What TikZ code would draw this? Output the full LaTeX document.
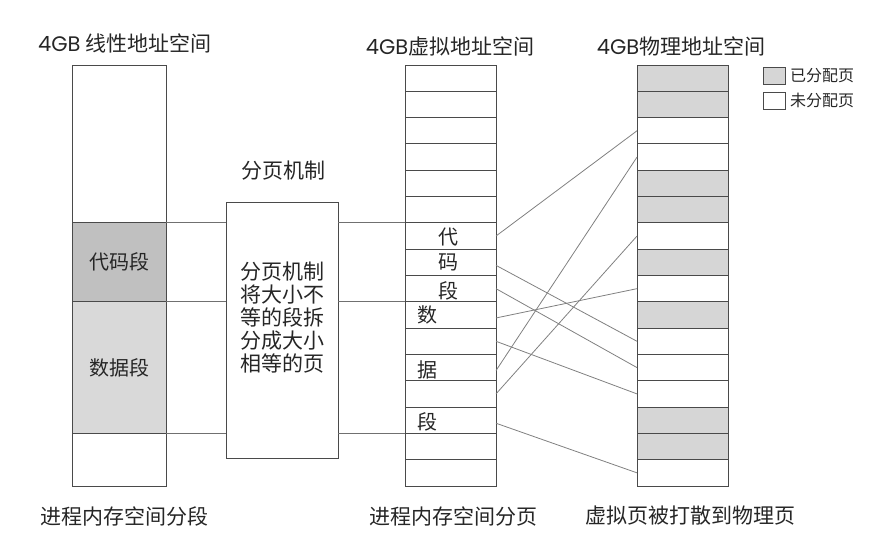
\documentclass[tikz,border=0pt]{standalone}
\usepackage{fontspec}
\setmainfont{Noto Sans CJK SC}
\newfontfamily\latinf{Poppins}
\usetikzlibrary{calc}
\definecolor{boxline}{HTML}{4A4A4A}
\definecolor{hl}{HTML}{707070}
\definecolor{conn}{HTML}{808080}
\definecolor{codefill}{HTML}{C0C0C0}
\definecolor{datafill}{HTML}{D9D9D9}
\definecolor{allocfill}{HTML}{D6D6D6}
\definecolor{txt}{HTML}{262626}
\tikzset{
  cell/.style={draw=boxline, line width=0.9pt, minimum width=91pt, minimum height=26.3125pt, inner sep=0pt, outer sep=0pt, anchor=north west},
  seg/.style={draw=boxline, line width=0.9pt, minimum width=94pt, inner sep=0pt, outer sep=0pt, anchor=north west, text=txt, font=\fontsize{20}{24}\selectfont},
  big/.style={inner sep=0pt, text=txt, font=\fontsize{21}{25}\selectfont},
  vlab/.style={inner sep=0pt, text=txt, font=\fontsize{20}{24}\selectfont},
  legtxt/.style={inner sep=0pt, anchor=west, text=txt, font=\fontsize{16}{19}\selectfont},
  legbox/.style={draw=boxline, line width=0.8pt, minimum width=22pt, minimum height=17pt, inner sep=0pt, outer sep=0pt, anchor=north west},
  hline/.style={draw=hl, line width=0.9pt},
  conn/.style={draw=conn, line width=0.8pt}
}
\begin{document}
\begin{tikzpicture}[x=1pt, y=-1pt]
\useasboundingbox (0,0) rectangle (876,549);
\def\h{26.3125}
% titles
\node[big, anchor=west] (t1) at (38,43) {{\latinf 4GB} 线性地址空间};
\node[big] (t2) at (450,46) {{\latinf 4GB}虚拟地址空间};
\node[big] (t3) at (681,46) {{\latinf 4GB}物理地址空间};
% left column
\node[seg, minimum height={6*\h pt}] (lt) at (72,65) {};
\node[seg, fill=codefill, minimum height={3*\h pt}] (code) at (lt.south west) {代码段};
\node[seg, fill=datafill, minimum height={5*\h pt}] (data) at (code.south west) {数据段};
\node[seg, minimum height={2*\h pt}] (lb) at (data.south west) {};
% virtual column
\foreach \k in {1,...,16} {
  \node[cell] (v\k) at (405, {65+\h*(\k-1)}) {};
}
% physical column
\foreach \k/\f in {1/allocfill,2/allocfill,3/white,4/white,5/allocfill,6/allocfill,7/white,8/allocfill,9/white,10/allocfill,11/white,12/white,13/white,14/allocfill,15/allocfill,16/white} {
  \node[cell, fill=\f] (p\k) at (637, {65+\h*(\k-1)}) {};
}
% middle box
\node[draw=boxline, line width=0.9pt, fill=white, minimum width=112pt, minimum height=256pt, inner sep=0pt, outer sep=0pt, anchor=north west] (mech) at (226,202) {};
\node[big, align=center, font=\fontsize{21}{23}\selectfont] (mechtxt) at (282,318) {分页机制\\将大小不\\等的段拆\\分成大小\\相等的页};
\node[big] (mechlab) at (283,171) {分页机制};
% horizontal lines
\draw[hline] (code.north east) -- (code.north east -| mech.west);
\draw[hline] (code.north east -| mech.east) -- (v7.north west);
\draw[hline] (data.north east) -- (data.north east -| mech.west);
\draw[hline] (data.north east -| mech.east) -- (v10.north west);
\draw[hline] (lb.north east) -- (lb.north east -| mech.west);
\draw[hline] (lb.north east -| mech.east) -- (v15.north west);
% labels in virtual rows
\node[vlab] (l7) at ([xshift=-2.5pt, yshift=-1pt]v7.center) {代};
\node[vlab] (l8) at ([xshift=-2.5pt]v8.center) {码};
\node[vlab] (l9) at ([xshift=-2.5pt, yshift=-2pt]v9.center) {段};
\node[vlab] (l10) at ([xshift=-23.5pt]v10.center) {数};
\node[vlab] (l12) at ([xshift=-23.5pt, yshift=-2pt]v12.center) {据};
\node[vlab] (l14) at ([xshift=-23.5pt, yshift=-2pt]v14.center) {段};
% connectors
\draw[conn] (v7.east) -- (p3.west);
\draw[conn] ([yshift=-3pt]v8.east) -- (p11.west);
\draw[conn] (v9.east) -- (p12.west);
\draw[conn] ([yshift=-3pt]v10.east) -- (p9.west);
\draw[conn] (v11.east) -- (p13.west);
\draw[conn] ([yshift=-3pt]v12.east) -- (p4.west);
\draw[conn] (v13.east) -- (p7.west);
\draw[conn] ([yshift=-3pt]v14.east) -- (p16.west);
% legend
\node[legbox, fill=allocfill] (lg1) at (763,67) {};
\node[legtxt] (lg1t) at ([xshift=5pt]lg1.east) {已分配页};
\node[legbox, fill=white] (lg2) at (763,92) {};
\node[legtxt] (lg2t) at ([xshift=5pt]lg2.east) {未分配页};
% bottom labels
\node[big] (b1) at (124.5,516) {进程内存空间分段};
\node[big] (b2) at (453,516) {进程内存空间分页};
\node[big] (b3) at (690,516) {虚拟页被打散到物理页};
\end{tikzpicture}
\end{document}
